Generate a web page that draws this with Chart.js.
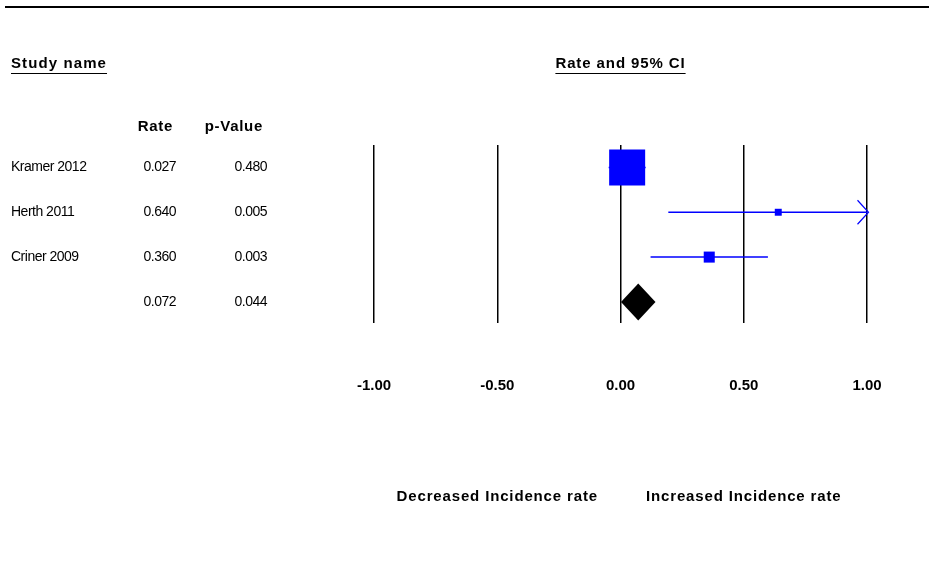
<!DOCTYPE html>
<html>
<head>
<meta charset="utf-8">
<script src="https://cdn.jsdelivr.net/npm/chart.js@4.4.1/dist/chart.umd.min.js"></script>
<style>
  html, body { margin: 0; padding: 0; background: #fff; }
  canvas { display: block; }
</style>
</head>
<body>
<canvas id="forest" width="929" height="571"></canvas>
<script>
// study data
const studyNames = ["Kramer 2012", "Herth 2011", "Criner 2009"];
const rates = [0.027, 0.640, 0.360];
const lowerLimits = [-0.048, 0.194, 0.122];
const upperLimits = [0.102, 1.086, 0.598];
const pValues = ["0.480", "0.005", "0.003"];
const weights = [88.4, 3.3, 8.3];

// pooled estimate
const summaryRate = 0.072;
const summaryLower = 0.002;
const summaryUpper = 0.142;
const summaryPValue = "0.044";

const tickValues = [-1, -0.5, 0, 0.5, 1];
const effectLabels = ["Decreased Incidence rate", "Increased Incidence rate"];

const BLUE = "#0000ff";
const FONT = "'Liberation Sans', Arial, sans-serif";
const summaryRow = studyNames.length + 1;

function boxRadius(w) {
  // side of square ~ sqrt(weight); Chart.js rect side = radius * sqrt(2)
  const side = 38.3 * Math.sqrt(w / 100);
  return side / Math.SQRT2;
}

function drawText(ctx, str, x, y, align, bold, spacing) {
  ctx.font = bold ? "bold 15px " + FONT : "14px " + FONT;
  ctx.letterSpacing = spacing + "px";
  ctx.textAlign = align;
  ctx.textBaseline = "middle";
  ctx.fillStyle = "#000";
  ctx.fillText(str, x, y);
  return ctx.measureText(str).width;
}

const forestExtras = {
  id: "forestExtras",
  afterDraw(chart) {
    const ctx = chart.ctx;
    const xs = chart.scales.x;
    const ys = chart.scales.y;
    ctx.save();

    // top rule
    ctx.strokeStyle = "#000";
    ctx.lineWidth = 2;
    ctx.beginPath();
    ctx.moveTo(5, 7);
    ctx.lineTo(929, 7);
    ctx.stroke();

    // underlined headers
    ctx.lineWidth = 1.2;
    let w = drawText(ctx, "Study name", 11, 64, "left", true, 1.1);
    ctx.beginPath();
    ctx.moveTo(11, 73.5);
    ctx.lineTo(11 + w, 73.5);
    ctx.stroke();
    const cx = xs.getPixelForValue(0);
    w = drawText(ctx, "Rate and 95% CI", cx, 64, "center", true, 0.9);
    ctx.beginPath();
    ctx.moveTo(cx - w / 2, 73.5);
    ctx.lineTo(cx + w / 2, 73.5);
    ctx.stroke();

    drawText(ctx, "Rate", 173, 127, "right", true, 0.7);
    drawText(ctx, "p-Value", 263, 127, "right", true, 0.7);

    // table rows
    studyNames.forEach((name, i) => {
      const y = ys.getPixelForValue(i + 1);
      drawText(ctx, name, 11, y, "left", false, -0.5);
      drawText(ctx, rates[i].toFixed(3), 176, y, "right", false, -0.5);
      drawText(ctx, pValues[i], 267, y, "right", false, -0.5);
    });
    const sy = ys.getPixelForValue(summaryRow);
    drawText(ctx, summaryRate.toFixed(3), 176, sy, "right", false, -0.5);
    drawText(ctx, summaryPValue, 267, sy, "right", false, -0.5);

    // pooled diamond
    ctx.fillStyle = "#000";
    ctx.beginPath();
    ctx.moveTo(xs.getPixelForValue(summaryLower), sy);
    ctx.lineTo(xs.getPixelForValue(summaryRate), sy - 18.5);
    ctx.lineTo(xs.getPixelForValue(summaryUpper), sy);
    ctx.lineTo(xs.getPixelForValue(summaryRate), sy + 18.5);
    ctx.closePath();
    ctx.fill();

    // arrows where the CI runs off the axis
    ctx.strokeStyle = BLUE;
    ctx.lineWidth = 1.2;
    upperLimits.forEach((u, i) => {
      if (u > xs.max) {
        const tip = xs.getPixelForValue(xs.max) + 1.5;
        const y = ys.getPixelForValue(i + 1);
        ctx.beginPath();
        ctx.moveTo(tip - 11, y - 12);
        ctx.lineTo(tip, y);
        ctx.lineTo(tip - 11, y + 12);
        ctx.stroke();
      }
    });

    // direction labels under the axis
    drawText(ctx, effectLabels[0], xs.getPixelForValue(-0.5), 497, "center", true, 0.85);
    drawText(ctx, effectLabels[1], xs.getPixelForValue(0.5), 497, "center", true, 0.85);

    ctx.restore();
  }
};

const ciDatasets = studyNames.map((name, i) => ({
  type: "line",
  label: name + " CI",
  data: [{ x: lowerLimits[i], y: i + 1 }, { x: upperLimits[i], y: i + 1 }],
  borderColor: BLUE,
  borderWidth: 1.5,
  pointRadius: 0,
  showLine: true,
}));

new Chart(document.getElementById("forest"), {
  type: "scatter",
  data: {
    datasets: [
      {
        label: "Rate",
        data: rates.map((r, i) => ({ x: r, y: i + 1 })),
        pointStyle: "rect",
        pointRadius: weights.map(boxRadius),
        backgroundColor: BLUE,
        borderWidth: 0,
      },
      ...ciDatasets,
    ],
  },
  options: {
    responsive: false,
    animation: false,
    layout: { padding: { left: 374, right: 62, top: 145, bottom: 0 } },
    plugins: { legend: { display: false }, tooltip: { enabled: false } },
    scales: {
      x: {
        type: "linear",
        min: -1,
        max: 1,
        afterFit(scale) {
          scale.height = 248;
          // keep the big tick padding from eating horizontal room
          scale.paddingLeft = 0;
          scale.paddingRight = 0;
        },
        afterBuildTicks(scale) { scale.ticks = tickValues.map((v) => ({ value: v })); },
        border: { display: false },
        grid: { color: "#000", lineWidth: 1.5, drawTicks: false },
        ticks: {
          padding: 54,
          color: "#000",
          font: { family: FONT, size: 15, weight: "bold" },
          callback: (v) => Number(v).toFixed(2),
        },
      },
      y: {
        type: "linear",
        display: false,
        reverse: true,
        min: 0.5,
        max: 4.47,
      },
    },
  },
  plugins: [forestExtras],
});
</script>
</body>
</html>
